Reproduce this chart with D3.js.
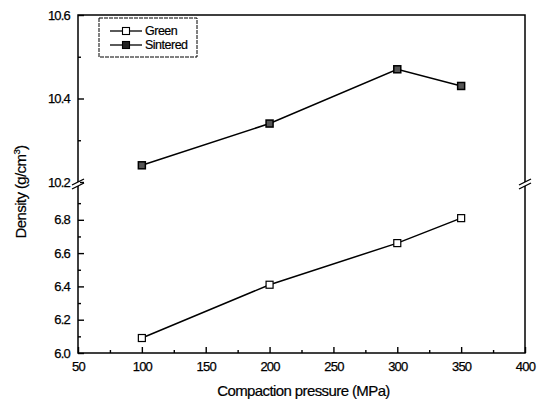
<!DOCTYPE html>
<html>
<head>
<meta charset="utf-8">
<script src="https://cdn.jsdelivr.net/npm/d3@7"></script>
<style>
  html, body { margin: 0; padding: 0; background: #fff; }
  svg { display: block; font-family: "Liberation Sans", Arial, sans-serif; }
</style>
</head>
<body>
<svg id="chart" width="549" height="403"></svg>
<script>
// compaction pressure (MPa)
const pressures = [100, 200, 300, 350];
const greenDensity = [6.09, 6.41, 6.66, 6.81];
const sinteredDensity = [10.24, 10.34, 10.47, 10.43];

const xTicks = [50, 100, 150, 200, 250, 300, 350, 400];
const lowTicks = [6.0, 6.2, 6.4, 6.6, 6.8];
const highTicks = [10.2, 10.4, 10.6];

(function () {
const mLeft = 78, mRight = 525, mTop = 15, mBottom = 353;
const breakY = 184;

const svg = d3.select('#chart');

const x = d3.scaleLinear().domain([50, 400]).range([mLeft, mRight]);
// two y segments around the axis break
const yLow = d3.scaleLinear().domain([6.0, 7.0]).range([mBottom, 186.5]);
const yHigh = d3.scaleLinear().domain([10.2, 10.6]).range([182, mTop]);

// frame
svg.append('rect')
  .attr('x', mLeft).attr('y', mTop)
  .attr('width', mRight - mLeft).attr('height', mBottom - mTop)
  .attr('fill', 'none').attr('stroke', '#000').attr('stroke-width', 1.5);

// bottom axis, ticks pointing in
const xAxis = d3.axisBottom(x).tickValues(xTicks).tickSize(-6).tickPadding(9).tickFormat(d3.format('d'));
const gx = svg.append('g').attr('transform', `translate(0,${mBottom})`).call(xAxis);
gx.select('.domain').remove();
svg.append('g').attr('transform', `translate(0,${mBottom})`)
  .call(d3.axisBottom(x).tickValues(d3.range(75, 400, 50)).tickSize(-3).tickFormat(''))
  .select('.domain').remove();

// left axis, lower part
const gLow = svg.append('g').attr('transform', `translate(${mLeft},0)`)
  .call(d3.axisLeft(yLow).tickValues(lowTicks).tickSize(-6).tickPadding(8).tickFormat(d3.format('.1f')));
gLow.select('.domain').remove();
svg.append('g').attr('transform', `translate(${mLeft},0)`)
  .call(d3.axisLeft(yLow).tickValues([6.1, 6.3, 6.5, 6.7, 6.9]).tickSize(-3).tickFormat(''))
  .select('.domain').remove();

// left axis, upper part
const gHigh = svg.append('g').attr('transform', `translate(${mLeft},0)`)
  .call(d3.axisLeft(yHigh).tickValues(highTicks).tickSize(-6).tickPadding(8).tickFormat(d3.format('.1f')));
gHigh.select('.domain').remove();
svg.append('g').attr('transform', `translate(${mLeft},0)`)
  .call(d3.axisLeft(yHigh).tickValues([10.3, 10.5]).tickSize(-3).tickFormat(''))
  .select('.domain').remove();

svg.selectAll('.tick line').attr('stroke', '#000').attr('stroke-width', 1.4);
svg.selectAll('.tick text')
  .attr('font-size', 13).attr('fill', '#000').attr('letter-spacing', '-0.8px')
  .attr('stroke', '#000').attr('stroke-width', 0.25);

// axis breaks
[mLeft, mRight].forEach(bx => {
  svg.append('rect').attr('x', bx - 2).attr('y', breakY - 2).attr('width', 4).attr('height', 4).attr('fill', '#fff');
  [-2, 2].forEach(dy => {
    svg.append('line')
      .attr('x1', bx - 6).attr('y1', breakY + dy + 3)
      .attr('x2', bx + 6).attr('y2', breakY + dy - 3)
      .attr('stroke', '#000').attr('stroke-width', 1.3);
  });
});

// series
const greenPts = pressures.map((p, i) => [x(p), yLow(greenDensity[i])]);
const sinteredPts = pressures.map((p, i) => [x(p), yHigh(sinteredDensity[i])]);
const line = d3.line();

svg.append('path').attr('d', line(greenPts))
  .attr('fill', 'none').attr('stroke', '#000').attr('stroke-width', 1.5);
svg.append('path').attr('d', line(sinteredPts))
  .attr('fill', 'none').attr('stroke', '#000').attr('stroke-width', 1.5);

const ms = 7;
svg.append('g').selectAll('rect').data(greenPts).join('rect')
  .attr('x', d => d[0] - ms / 2).attr('y', d => d[1] - ms / 2)
  .attr('width', ms).attr('height', ms)
  .attr('fill', '#fff').attr('stroke', '#000').attr('stroke-width', 1.2);
svg.append('g').selectAll('rect').data(sinteredPts).join('rect')
  .attr('x', d => d[0] - ms / 2).attr('y', d => d[1] - ms / 2)
  .attr('width', ms).attr('height', ms)
  .attr('fill', '#555').attr('stroke', '#000').attr('stroke-width', 1.5);

// legend
const lg = svg.append('g');
lg.append('rect').attr('x', 99).attr('y', 18).attr('width', 98).attr('height', 39)
  .attr('fill', '#fff').attr('stroke', '#000').attr('stroke-width', 1).attr('stroke-dasharray', '4,1');
const legendItems = [
  { label: 'Green', fill: '#fff', y: 31 },
  { label: 'Sintered', fill: '#222', y: 45 },
];
legendItems.forEach(item => {
  lg.append('line').attr('x1', 110).attr('x2', 142).attr('y1', item.y).attr('y2', item.y)
    .attr('stroke', '#000').attr('stroke-width', 1.3);
  lg.append('rect').attr('x', 126 - 3.5).attr('y', item.y - 3.5).attr('width', 7).attr('height', 7)
    .attr('fill', item.fill).attr('stroke', '#000').attr('stroke-width', 1.1);
  lg.append('text').attr('x', 145).attr('y', item.y + 4)
    .attr('font-size', 12.5).attr('fill', '#000').attr('letter-spacing', '-0.5px')
    .attr('stroke', '#000').attr('stroke-width', 0.2)
    .text(item.label);
});

// axis titles
svg.append('text')
  .attr('x', (mLeft + mRight) / 2 + 2).attr('y', 396)
  .attr('text-anchor', 'middle').attr('font-size', 15).attr('fill', '#000').attr('letter-spacing', '-0.6px')
  .attr('stroke', '#000').attr('stroke-width', 0.2)
  .text('Compaction pressure (MPa)');

const yt = svg.append('text')
  .attr('transform', `translate(26,192) rotate(-90)`)
  .attr('text-anchor', 'middle').attr('font-size', 15).attr('fill', '#000').attr('letter-spacing', '-0.6px')
  .attr('stroke', '#000').attr('stroke-width', 0.2);
yt.append('tspan').text('Density (g/cm');
yt.append('tspan').attr('font-size', 9.5).attr('dy', -6).text('3');
yt.append('tspan').attr('dy', 6).text(')');
})();
</script>
</body>
</html>
